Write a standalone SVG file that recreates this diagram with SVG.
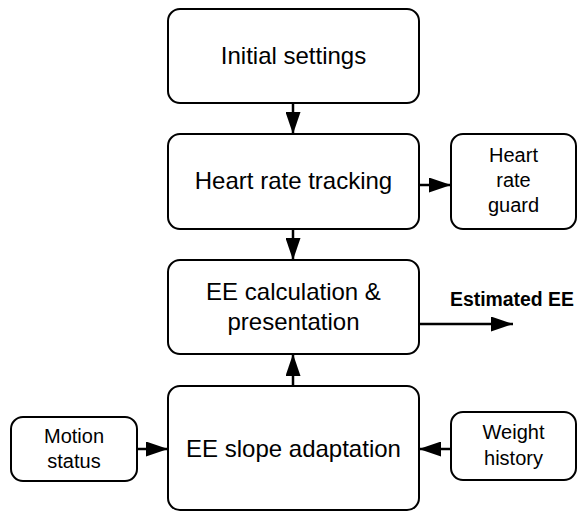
<svg xmlns="http://www.w3.org/2000/svg" width="577" height="512" viewBox="0 0 577 512">
<style>
.box{fill:#fff;stroke:#000;stroke-width:2}
.t{font-family:"Liberation Sans",Arial,sans-serif;font-size:24px;text-anchor:middle;fill:#000}
.s{font-family:"Liberation Sans",Arial,sans-serif;font-size:20px;text-anchor:middle;fill:#000}
.b{font-family:"Liberation Sans",Arial,sans-serif;font-size:20px;font-weight:bold;fill:#000}
.c{stroke:#000;stroke-width:2.5;fill:none;marker-end:url(#ah)}
</style>
<defs>
<marker id="ah" markerUnits="userSpaceOnUse" markerWidth="22" markerHeight="15" refX="22" refY="7.5" orient="auto">
<path d="M0,0 L22,7.5 L0,15 z" fill="#000"/>
</marker>
</defs>
<rect width="577" height="512" fill="#fff"/>
<g id="connectors">
<line class="c" x1="293" y1="103" x2="293" y2="134"/>
<line class="c" x1="293" y1="229" x2="293" y2="260"/>
<line class="c" x1="419" y1="185" x2="451" y2="185"/>
<line class="c" x1="293" y1="386" x2="293" y2="354"/>
<line class="c" x1="419" y1="324" x2="513" y2="324"/>
<line class="c" x1="137" y1="449" x2="168" y2="449"/>
<line class="c" x1="451" y1="449" x2="419" y2="449"/>
<text class="b" x="450" y="306" textLength="124" lengthAdjust="spacingAndGlyphs">Estimated EE</text>
</g>
<g id="initial">
<rect class="box" x="168" y="9" width="251" height="94" rx="12"/>
<text class="t" x="293.5" y="64">Initial settings</text>
</g>
<g id="hrtracking">
<rect class="box" x="168" y="134" width="251" height="95" rx="12"/>
<text class="t" x="293.5" y="189">Heart rate tracking</text>
</g>
<g id="eecalc">
<rect class="box" x="168" y="260" width="251" height="94" rx="12"/>
<text class="t" x="293.5" y="300">EE calculation &amp;</text>
<text class="t" x="293.5" y="330">presentation</text>
</g>
<g id="slope">
<rect class="box" x="168" y="386" width="251" height="124" rx="12"/>
<text class="t" x="293.5" y="457">EE slope adaptation</text>
</g>
<g id="guard">
<rect class="box" x="451" y="134" width="125" height="95" rx="12"/>
<text class="s" x="513.5" y="162">Heart</text>
<text class="s" x="513.5" y="187">rate</text>
<text class="s" x="513.5" y="212">guard</text>
</g>
<g id="motion">
<rect class="box" x="11" y="417" width="126" height="64" rx="12"/>
<text class="s" x="74" y="443">Motion</text>
<text class="s" x="74" y="468">status</text>
</g>
<g id="weight">
<rect class="box" x="451" y="412" width="125" height="68" rx="12"/>
<text class="s" x="513.5" y="439">Weight</text>
<text class="s" x="513.5" y="465">history</text>
</g>
</svg>
